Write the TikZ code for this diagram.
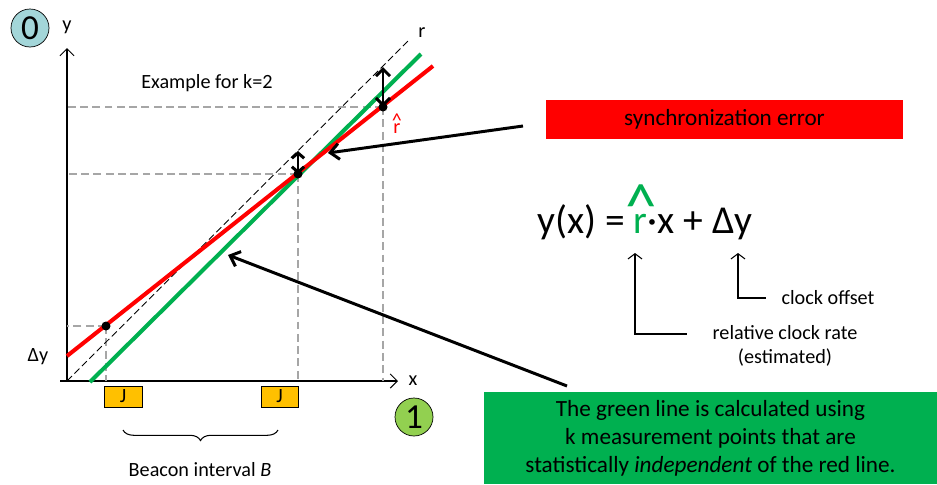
\documentclass[tikz,border=0pt]{standalone}
\usepackage{fontspec}
\setmainfont{Carlito}
\usetikzlibrary{arrows.meta,decorations.pathreplacing}

\definecolor{grn}{HTML}{00B050}
\definecolor{gold}{HTML}{FFC000}
\definecolor{teal0}{HTML}{A3D6D9}
\definecolor{lime1}{HTML}{92D050}
% r with a hat: #1 = lift of the hat, #2 = size of the hat
\newsavebox{\rbox}
\newcommand{\hatr}[2]{\sbox{\rbox}{r}\rlap{\makebox[\wd\rbox]{\smash{\raisebox{#1}{\scalebox{#2}{\textasciicircum}}}}}r}

\tikzset{
  guide/.style={gray!70, dash pattern=on 4.5pt off 2.5pt, line width=0.6pt},
  fitline/.style={line width=2.3pt},
  pointer/.style={line width=1.7pt, -{Straight Barb[length=5pt,width=9pt]}},
  bigtext/.style={font=\fontsize{11.5}{14}\selectfont},
  notetext/.style={font=\fontsize{13.2}{16}\selectfont},
}

\begin{document}
\begin{tikzpicture}[x=0.02cm, y=-0.02cm, font=\fontsize{11.5}{14}\selectfont]
        \useasboundingbox (0,0) rectangle (937,484);
        % axes
        \coordinate (O) at (67,381);
        \coordinate (xs) at (60,381);
        \coordinate (xe) at (398,381);
        \coordinate (ye) at (67,48);
        \draw[line width=0.6pt, -{Straight Barb[length=4pt,width=8pt]}] (xs) -- (xe);
        \draw[line width=0.6pt, -{Straight Barb[length=4pt,width=8pt]}] (O) -- (ye);
        \node (xlab) at (413,381) {x};
        \node (ylab) at (67,27) {y};
        \node (dylab) at (38,357) {Δy};
        % measurement points
        \coordinate (p1) at (106,326);
        \coordinate (p2) at (298,174);
        \coordinate (p3) at (383,107);
        \foreach \p in {p1,p2,p3} {
            \draw[guide] (\p) -- (\p -| O);
            \draw[guide] (\p) -- (\p |- O);
        }
        % ideal line r
        \coordinate (rend) at (408,41);
        \draw[dashed, line width=0.5pt, dash pattern=on 4pt off 2pt] (O) -- (rend);
        \node (rlab) at (422,33) {r};
        % green and red lines
        \coordinate (gs) at (90,382);
        \coordinate (ge) at (421,54);
        \coordinate (rs) at (67,356);
        \coordinate (re) at (433,66);
        \draw[grn, fitline] (gs) -- (ge);
        \draw[red, fitline] (rs) -- (re);
        \foreach \p in {p1,p2,p3}
            \fill (\p) circle (4.5);
        \node[red] (rhatlab) at (397,129) {\hatr{0.3em}{1}};
        % errors
        \coordinate (e2) at (298,151);
        \coordinate (e3) at (383,67);
        \draw[line width=1.7pt, {Straight Barb[length=4pt,width=8pt]}-{Straight Barb[length=4pt,width=8pt]}] (e3) -- (p3);
        \draw[line width=1.7pt, {Straight Barb[length=3pt,width=7pt]}-{Straight Barb[length=3pt,width=7pt]}] (e2) -- (p2);
        \node (example) at (207,83) {Example for k=2};
        % beacons
        \node[draw, fill=gold, minimum width=38*0.02cm, minimum height=21*0.02cm, inner sep=0pt] (j1) at (123,396.5) {J};
        \node[draw, fill=gold, minimum width=37*0.02cm, minimum height=21*0.02cm, inner sep=0pt] (j2) at (279.5,396.5) {J};
        \coordinate (bl) at (123,430);
        \coordinate (br) at (278,430);
        \draw[decorate, decoration={brace, mirror, amplitude=6pt}, line width=0.6pt] (bl) -- (br);
        \node (beacon) at (200,470) {Beacon interval \textit{B}};
        % step markers
        \node[circle, draw, fill=teal0, minimum size=38*0.02cm, inner sep=0pt, font=\fontsize{20}{20}\selectfont] (s0) at (30,28) {0};
        \node[circle, draw, fill=lime1, minimum size=38*0.02cm, inner sep=0pt, font=\fontsize{20}{20}\selectfont] (s1) at (414,417) {1};
        % synchronization error
        \node[fill=red, minimum width=357*0.02cm, minimum height=39*0.02cm, inner sep=0pt, notetext] (sync) at (724.5,119.5) {synchronization error};
        \coordinate (syncend) at (523,126);
        \coordinate (syncpt) at (328,153);
        \draw[pointer] (syncend) -- (syncpt);
        % formula
        \node[font=\fontsize{22.5}{26}\selectfont] (formula) at (645,222) {y(x) = \textcolor{grn}{\hatr{0.14em}{1.6}}·x + Δy};
        \coordinate (rate) at (635,253);
        \coordinate (off) at (738,253);
        \node[bigtext, align=center] (ratelab) at (785,346) {relative clock rate\\(estimated)};
        \node[bigtext] (offlab) at (828,298) {clock offset};
        \draw[line width=0.6pt, {Straight Barb[length=3pt,width=8pt]}-] (rate) |- (687,334);
        \draw[line width=0.6pt, {Straight Barb[length=3pt,width=8pt]}-] (off) |- (766,298);
        % green note
        \node[fill=grn, minimum width=453*0.02cm, minimum height=92*0.02cm, inner sep=0pt, notetext, align=center] (note) at (710.5,438) {The green line is calculated using\\k measurement points that are\\statistically \textit{independent} of the red line.};
        \coordinate (noteend) at (567,386);
        \coordinate (notept) at (228,255);
        \draw[pointer] (noteend) -- (notept);
    \end{tikzpicture}
\end{document}
